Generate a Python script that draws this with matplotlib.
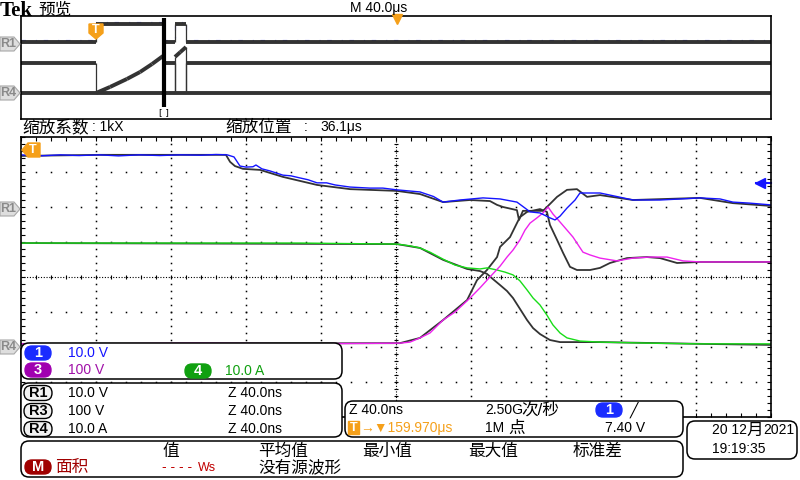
import numpy as np
import matplotlib
matplotlib.use('Agg')
import matplotlib.pyplot as plt
from matplotlib.patches import FancyBboxPatch, Polygon
from matplotlib.collections import LineCollection

plt.rcParams['font.family'] = ['Liberation Sans', 'Noto Sans CJK SC', 'DejaVu Sans']

W, H = 800, 480

# --- zoomed window: time in ns (40 ns/div), level in screen divisions ---
ch1 = np.array([  # blue, 10.0 V/div
    [0, 3.49], [10, 3.46], [21, 3.49], [31, 3.47], [42, 3.49], [52, 3.46], [63, 3.49],
    [74, 3.47], [85, 3.49], [96, 3.48], [104, 3.50], [110, 3.49], [113.6, 3.43],
    [116.8, 3.17], [120, 3.14], [123.7, 3.15], [125.3, 3.20], [128.5, 3.09], [132.8, 3.03],
    [139.7, 2.91], [144, 2.89], [148.8, 2.83], [153, 2.78], [157.9, 2.69], [163, 2.69],
    [167.5, 2.63], [175.5, 2.57], [186, 2.54], [193, 2.54], [200.5, 2.49], [212.8, 2.43],
    [220, 2.30], [225.1, 2.14], [234.1, 2.20], [246.4, 2.26], [255.5, 2.23], [264.5, 2.14],
    [268.8, 1.97], [271.5, 1.86], [276.8, 1.83], [282.1, 1.69], [284.8, 1.63], [287.5, 1.74],
    [291.2, 1.97], [295.5, 2.20], [298.1, 2.40], [308.8, 2.40], [316.8, 2.31], [326.4, 2.20],
    [340.8, 2.20], [352, 2.23], [362.1, 2.26], [372.8, 2.23], [379.7, 2.14], [388.8, 2.11],
    [400, 2.06]])

ref1 = np.array([  # R1 reference, grey
    [0, 3.46], [42.1, 3.49], [95.5, 3.49], [109.3, 3.49], [111.5, 3.29], [114.1, 3.17],
    [118.4, 3.09], [127.5, 3.06], [139.7, 2.86], [157.9, 2.63], [175.5, 2.51], [200.5, 2.46],
    [212.8, 2.37], [225.1, 2.14], [239.5, 2.20], [250.1, 2.17], [253.9, 2.06], [257.1, 2.00],
    [264.5, 1.91], [265.6, 1.63], [267.7, 1.89], [278.4, 1.89], [280.5, 2.00], [285.9, 2.29],
    [291.2, 2.49], [296.5, 2.51], [299.2, 2.40], [301.9, 2.29], [308.8, 2.34], [326.4, 2.20],
    [362.1, 2.26], [379.7, 2.11], [400, 2.03]])

ch3 = np.array([  # magenta, 100 V/div
    [0, -1.91], [42.1, -1.91], [95.5, -1.89], [148.8, -1.91], [202.1, -1.89], [207.5, -1.86],
    [212.8, -1.74], [218.1, -1.60], [225.1, -1.23], [231.5, -1.00], [239.5, -0.60],
    [244.8, -0.31], [250.1, 0.00], [255.5, 0.31], [259.2, 0.57], [262.4, 0.77], [266.1, 1.06],
    [268.8, 1.34], [271.5, 1.54], [275.2, 1.69], [278.4, 1.83], [281.1, 2.00], [283.7, 1.80],
    [287.5, 1.57], [291.2, 1.34], [294.4, 1.14], [299.7, 0.71], [303.5, 0.63], [308.8, 0.54],
    [317.9, 0.46], [326.4, 0.54], [335.5, 0.57], [344.5, 0.57], [353.1, 0.46], [362.1, 0.43],
    [379.7, 0.43], [400, 0.43]])

ref3 = np.array([  # R3 reference, grey
    [0, -1.91], [202.1, -1.89], [212.8, -1.74], [225.1, -1.23], [237.9, -0.66], [243.2, -0.09],
    [248.5, 0.20], [253.9, 0.57], [255.5, 0.86], [260.8, 1.14], [264.5, 1.54], [266.1, 1.71],
    [269.9, 1.86], [276.8, 1.94], [280.5, 1.86], [282.1, 1.49], [285.9, 1.06], [289.1, 0.69],
    [292.8, 0.29], [296.5, 0.20], [303.5, 0.20], [308.8, 0.26], [314.1, 0.40], [323.2, 0.54],
    [333.9, 0.57], [340.8, 0.54], [349.9, 0.40], [362.1, 0.43], [400, 0.43]])

ch4 = np.array([  # green, 10.0 A/div
    [0, 0.97], [42.1, 0.97], [95.5, 0.97], [148.8, 0.97], [200.5, 0.94], [207.5, 0.89],
    [212.8, 0.83], [218.1, 0.71], [225.1, 0.51], [231.5, 0.34], [237.9, 0.26], [244.8, 0.23],
    [248.5, 0.26], [253.9, 0.20], [258.1, 0.14], [262.4, 0.06], [266.1, -0.11], [269.9, -0.37],
    [273.1, -0.60], [276.8, -0.80], [280.5, -1.09], [283.7, -1.37], [287.5, -1.60],
    [291.2, -1.74], [298.1, -1.83], [308.8, -1.86], [335.5, -1.89], [362.1, -1.91], [400, -1.91]])

ref4 = np.array([  # R4 reference, grey
    [0, 0.97], [200.5, 0.94], [212.8, 0.83], [225.1, 0.49], [237.9, 0.23], [244.8, 0.17],
    [248.5, 0.09], [251.7, -0.06], [255.5, -0.23], [259.2, -0.40], [262.4, -0.60],
    [266.1, -0.91], [269.9, -1.23], [273.1, -1.46], [276.8, -1.63], [282.1, -1.80],
    [287.5, -1.86], [308.8, -1.86], [362.1, -1.91], [400, -1.94]])

ch1_offset_div = 1.94
trig_level_v = 7.40
ch1_v_per_div = 10.0

# --- overview record: time in us (40 us/div), level in divisions ---
trig_t = 40.0
zoom_pos = 36.1
ov_r1_t = [0, 40, 40, 76, 76, 82.1, 82.1, 88, 88, 400]
ov_r1_y = [2.0, 2.0, 3.4, 3.4, 2.0, 2.0, 3.4, 3.4, 2.0, 2.0]
ov_r3_t = [0, 40, 40, 47.5, 56.5, 63.5, 69.9, 75.7, 75.7, 82.1, 82.1, 82.1, 85, 88, 88, 88, 400]
ov_r3_y = [0.35, 0.35, -1.98, -1.51, -0.89, -0.35, 0.27, 0.89, 0.35, 0.35, -1.98, 0.82,
           1.2, 1.59, -1.98, 0.35, 0.35]
ov_r4_t = [0, 400]
ov_r4_y = [-1.98, -1.98]

BLUE = '#1414ff'
MAG = '#ee22ee'
GREEN = '#18dd18'
REF = '#333333'
ORANGE = '#f5a01a'
CJK = 12


def rect(x0, y0, x1, y1):
    return [x0 / W, 1 - y1 / H, (x1 - x0) / W, (y1 - y0) / H]


fig = plt.figure(figsize=(8, 4.8), dpi=100)

# main zoomed graticule
ax = fig.add_axes(rect(21, 137, 771, 417))
ax.set_xlim(0, 400)
ax.set_ylim(-4, 4)
for s in ax.spines.values():
    s.set_linewidth(1.2)
ax.set_xticks(np.arange(0, 401, 8))
ax.set_yticks(np.arange(-4, 4.01, 0.2))
ax.tick_params(direction='in', length=3, width=0.8, top=True, right=True,
               labelbottom=False, labelleft=False)

dot = dict(ls='none', marker='s', ms=1.1, mew=0, color='black')
for gx in range(40, 400, 40):
    if gx != 200:
        yy = np.arange(-4, 4.01, 0.2)
        ax.plot(np.full(len(yy), gx), yy, **dot)
for gy in range(-3, 4):
    if gy != 0:
        xx = np.arange(8, 400, 8)
        ax.plot(xx, np.full(len(xx), gy), **dot)
ax.plot([0, 400], [0, 0], ls=(0, (1, 1.5)), lw=0.8, color='black')
ax.plot(np.arange(8, 400, 8), np.zeros(49), ls='none', marker='|', ms=3.5, mew=0.8, color='black')
ax.plot([200, 200], [-4, 4], ls=(0, (1, 1.5)), lw=0.8, color='black')
yy = np.arange(-3.8, 3.81, 0.2)
ax.plot(np.full(len(yy), 200), yy, ls='none', marker='_', ms=3.5, mew=0.8, color='black')

for ref in (ref1, ref3, ref4):
    ax.plot(ref[:, 0], ref[:, 1], color=REF, lw=1.3)
ax.plot(ch4[:, 0], ch4[:, 1], color=GREEN, lw=1.0)
ax.plot(ch3[:, 0], ch3[:, 1], color=MAG, lw=1.0)
ax.plot(ch1[:, 0], ch1[:, 1], color=BLUE, lw=1.0)

# trigger level arrow at right edge
tl = ch1_offset_div + trig_level_v / ch1_v_per_div
ax.plot([392, 400], [tl, tl], color=BLUE, lw=1.5, clip_on=False)
ax.plot([394], [tl], marker='<', ms=7, color=BLUE, clip_on=False)

# overview strip
ax2 = fig.add_axes(rect(21, 16, 771, 119))
ax2.set_xlim(0, 400)
ax2.set_ylim(-4, 4)
ax2.set_xticks([])
ax2.set_yticks([])
for s in ax2.spines.values():
    s.set_linewidth(1.2)


def trace(a, t, y):
    pts = np.column_stack([t, y])
    segs = np.stack([pts[:-1], pts[1:]], axis=1)
    flat = segs[:, 0, 0] != segs[:, 1, 0]
    a.add_collection(LineCollection(segs[~flat], colors=REF, linewidths=0.9))
    a.add_collection(LineCollection(segs[flat], colors=REF, linewidths=2.8, capstyle='butt'))


ax2.plot(ov_r1_t, np.array(ov_r1_y) + 0.1, color=BLUE, lw=0.8, ls=(0, (4, 9, 1, 6)))
trace(ax2, ov_r1_t, ov_r1_y)
trace(ax2, ov_r3_t, ov_r3_y)
trace(ax2, ov_r4_t, ov_r4_y)
zt = trig_t + zoom_pos
ax2.plot([zt, zt], [3.85, -3.05], color='black', lw=3, solid_capstyle='butt')
ax2.text(zt, -3.5, '[ ]', ha='center', va='center', fontsize=6.5, family='DejaVu Sans')

# overlay for labels and readout panels (pixel coordinates)
ov = fig.add_axes([0, 0, 1, 1])
ov.set_xlim(0, W)
ov.set_ylim(H, 0)
ov.axis('off')
ov.patch.set_alpha(0)


def txt(x, y, s, color='black', size=10, **kw):
    ov.text(x, y, s, color=color, fontsize=size, ha=kw.pop('ha', 'left'), va='center', **kw)


def panel(x0, y0, x1, y1):
    ov.add_patch(FancyBboxPatch((x0, y0), x1 - x0, y1 - y0,
                                boxstyle='round,pad=0,rounding_size=8',
                                fc='white', ec='black', lw=1.1))


def pill(cx, cy, label, fc, w=26, h=14, tc='white', ec=None):
    ov.add_patch(FancyBboxPatch((cx - w / 2, cy - h / 2), w, h,
                                boxstyle='round,pad=0,rounding_size=%g' % (h / 2),
                                fc=fc, ec=ec or fc, lw=1))
    ov.text(cx, cy, label, color=tc, fontsize=10.5, ha='center', va='center',
            fontweight='bold')


def tag(y, label):
    ov.add_patch(Polygon([(0, y - 7), (14, y - 7), (20, y), (14, y + 7), (0, y + 7)],
                         closed=True, fc='#dedede', ec='#a8a8a8', lw=0.8))
    ov.text(8, y, label, color='#8a8a8a', fontsize=9, fontweight='bold',
            ha='center', va='center')


# header
ov.text(0, 11, 'Tek', fontsize=15, fontweight='bold', family='Liberation Serif',
        ha='left', va='center')
txt(38, 10, '预览', size=CJK)
txt(350, 8, 'M 40.0μs', size=10)
ov.plot([397], [19], marker='v', ms=7, color=ORANGE)
txt(22, 127, '缩放系数', size=CJK)
txt(92, 127, ': 1kX')
txt(225, 127, '缩放位置', size=CJK)
txt(304, 127, ':')
txt(320, 127, '36.1μs')

tag(44, 'R1')
tag(93, 'R4')
tag(209, 'R1')
tag(347, 'R4')

# trigger markers
ov.add_patch(Polygon([(89, 24), (103, 24), (103, 33), (96, 39), (89, 33)], closed=True,
                     fc=ORANGE, ec=ORANGE))
ov.text(96, 30, 'T', color='white', fontsize=9, fontweight='bold', ha='center', va='center')
ov.add_patch(Polygon([(22, 150), (28, 143), (40, 143), (40, 157), (28, 157)], closed=True,
                     fc=ORANGE, ec=ORANGE))
ov.text(33, 150, 'T', color='white', fontsize=9, fontweight='bold', ha='center', va='center')

# channel panel
panel(21, 343, 342, 379)
pill(38, 353, '1', '#1a2cff')
txt(68, 353, '10.0 V', BLUE)
pill(38, 370, '3', '#a000b0')
txt(68, 370, '100 V', '#a010a8')
pill(198, 371, '4', '#10a010')
txt(225, 371, '10.0 A', '#10a010')

# reference panel
panel(21, 383, 342, 437)
for y, r, v in ((393, 'R1', '10.0 V'), (411, 'R3', '100 V'), (429, 'R4', '10.0 A')):
    pill(38, y, r, '#f2f2f2', w=28, h=15, tc='black', ec='black')
    txt(68, y, v)
    txt(228, y, 'Z 40.0ns')

# timebase / trigger panel
panel(345, 401, 683, 437)
txt(349, 410, 'Z 40.0ns')
txt(485, 410, '2.50G')
txt(521, 410, '次/秒', size=CJK)
pill(609, 410, '1', '#1a2cff')
txt(630, 410, '╱', family='DejaVu Sans')
ov.add_patch(FancyBboxPatch((348, 421), 11, 13, boxstyle='square,pad=0', fc=ORANGE, ec=ORANGE))
ov.text(353.5, 428, 'T', color='white', fontsize=9, fontweight='bold', ha='center', va='center')
txt(360, 428, '→▼159.970μs', ORANGE, family=['Liberation Sans', 'DejaVu Sans'])
txt(485, 428, '1M')
txt(508, 428, '点', size=CJK)
txt(605, 428, '7.40 V')

# date panel
panel(687, 421, 797, 459)
txt(712, 430, '20 12')
txt(746, 430, '月', size=CJK)
txt(763, 430, '2021')
txt(712, 449, '19:19:35')

# measurement panel
panel(21, 441, 683, 477)
for x, s in ((162, '值'), (258, '平均值'), (362, '最小值'), (468, '最大值'), (573, '标准差')):
    txt(x, 451, s, size=CJK)
pill(38, 467, 'M', '#a00000')
txt(55, 467, '面积', '#a00000', size=CJK)
txt(162, 467, '- - - -', '#c00000', size=10)
txt(198, 468, 'Ws', '#c00000', size=9)
txt(258, 467, '没有源波形', size=CJK)

fig.savefig('out.png', dpi=100)
